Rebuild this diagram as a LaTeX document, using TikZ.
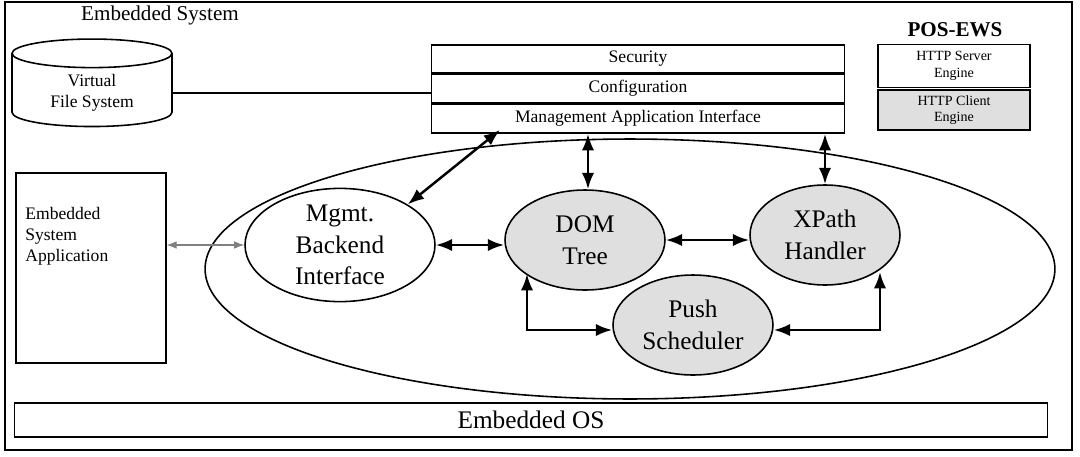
\documentclass[tikz,border=0pt]{standalone}
\usepackage{fontspec}
\setmainfont{Liberation Serif}
\usetikzlibrary{arrows.meta,positioning,shapes.geometric}
\begin{document}
\begin{tikzpicture}[x=0.02cm,y=-0.02cm]
        \tikzset{blk/.style = {draw,line width=0.9pt,inner sep=0pt}}
        \tikzset{comp/.style = {shape=ellipse,draw,line width=0.9pt,fill=gray!25,align=center,font=\Large,inner sep=0pt}}
        \tikzset{bi_edge/.style = {{Latex}-{Latex},line width=1.4pt,color=black}}
        \tikzset{thin_edge/.style = {{Latex}-{Latex},line width=0.6pt,color=gray}}
        \useasboundingbox (0,0) rectangle (1080,457);
        \draw[line width=0.8pt] (5,2) rectangle (1072,450);
        \node (sys) at (160,15) {\large Embedded System};

        % storage and POS-EWS
        \node[cylinder,shape border rotate=90,draw,line width=0.9pt,minimum width=3.2cm,minimum height=1.75cm,aspect=0.3,align=center] (vfs) at (92,93) {Virtual\\File System};
        \node[blk,minimum width=8.26cm,minimum height=0.56cm] (sec) at (638,59) {Security};
        \node[blk,minimum width=8.26cm,minimum height=0.56cm,below=0pt of sec] (conf) {Configuration};
        \node[blk,minimum width=8.26cm,minimum height=0.58cm,below=0pt of conf] (mai) {Management Application Interface};
        \node[font=\large\bfseries] (pos) at (955,30) {POS-EWS};
        \node[blk,minimum width=3.04cm,minimum height=0.86cm,align=center,font=\footnotesize] (srv) at (954,66) {HTTP Server\\Engine};
        \node[blk,fill=gray!25,minimum width=3.04cm,minimum height=0.8cm,align=center,font=\footnotesize] (cli) at (954,110) {HTTP Client\\Engine};
        \draw[line width=0.6pt] (vfs.east) -- (mai.north west |- vfs.east);

        % application side
        \node[blk,minimum width=3cm,minimum height=3.8cm,anchor=north west] (app) at (15,172) {};
        \node[align=left,anchor=north west,inner sep=0pt] (apptxt) at (25,207) {Embedded\\System\\Application};
        \node[ellipse,draw,line width=0.9pt,minimum width=17cm,minimum height=5.2cm] (core) at (630,269) {};
        \node[comp,fill=white,minimum width=3.8cm,minimum height=2.1cm] (mgmt) at (340,245) {Mgmt.\\Backend\\Interface};
        \node[comp,minimum width=3.2cm,minimum height=2cm] (dom) at (585,240) {DOM\\Tree};
        \node[comp,minimum width=3cm,minimum height=2cm] (xpath) at (825,235) {XPath\\Handler};
        \node[comp,minimum width=3.2cm,minimum height=2cm] (push) at (693,325) {Push\\Scheduler};
        \node[blk,minimum width=20.66cm,minimum height=0.68cm,font=\Large] (os) at (531,420) {Embedded OS};

        % connectors
        \coordinate (maiL) at (500,130);
        \draw[bi_edge] (mgmt.north east) -- (maiL);
        \draw[bi_edge] (dom.north -| 588,0) -- (mai.south -| 588,0);
        \draw[bi_edge] (xpath.north) -- (mai.south -| xpath.north);
        \draw[thin_edge] (app.east |- mgmt.west) -- (mgmt.west);
        \draw[bi_edge] (mgmt.east) -- (dom.west |- mgmt.east);
        \draw[bi_edge] (dom.east) -- (xpath.west |- dom.east);
        \draw[bi_edge] (527,274) -- (527,330) -- (push.west |- 0,330);
        \draw[bi_edge] (880,272) -- (880,330) -- (push.east |- 0,330);
\end{tikzpicture}
\end{document}
